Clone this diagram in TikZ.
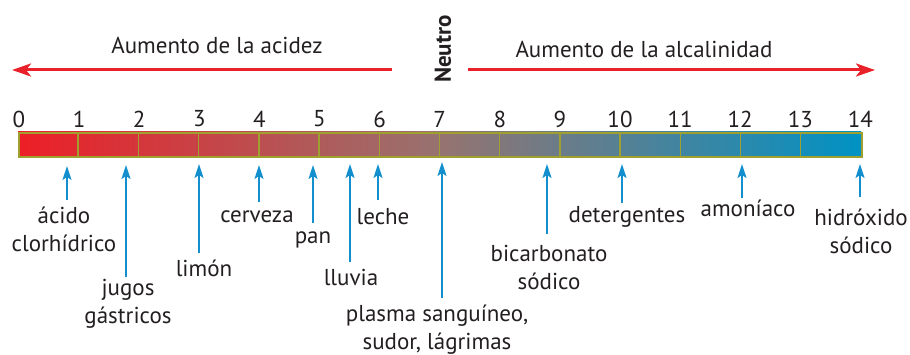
\documentclass[tikz,border=0pt]{standalone}
\usepackage{fontspec}
\setmainfont{PT Sans}
\usetikzlibrary{arrows.meta}
\definecolor{txt}{RGB}{35,31,32}
\definecolor{redarr}{RGB}{232,33,42}
\definecolor{bluearr}{RGB}{18,143,204}
\definecolor{olive}{RGB}{160,160,48}
\definecolor{phred}{RGB}{237,30,38}
\definecolor{phmid}{RGB}{150,115,112}
\definecolor{phblue}{RGB}{0,146,196}
\tikzset{
  lbl/.style={text=txt,font=\fontsize{23}{28}\selectfont,align=center,inner sep=0pt},
  num/.style={text=txt,font=\fontsize{23}{24}\selectfont,inner sep=0pt},
  redline/.style={draw=redarr,line width=3pt,-{Stealth[length=19pt,width=13pt,inset=5pt]}},
  blueline/.style={draw=bluearr,line width=1.8pt,-{Stealth[length=14pt,width=9pt,inset=3pt]}},
  divider/.style={draw=olive,line width=1.5pt},
}
\begin{document}
\begin{tikzpicture}[x=1pt,y=-1pt]
\useasboundingbox (0,0) rectangle (910,355);
% bar
\path[left color=phred,right color=phblue,middle color=phmid] (18,132) rectangle (861,156);
\foreach \i in {1,...,13} {
  \draw[divider] ({18+\i*60.21},132) -- ({18+\i*60.21},156);
}
\node[draw=olive,line width=2pt,minimum width=843pt,minimum height=24pt,inner sep=0pt,anchor=north west] (bar) at (18,132) {};
% numbers
\foreach \i in {0,...,14} {
  \node[num] (n\i) at ({19+\i*60.1},119) {\i};
}
% top texts
\node[lbl] (acid) at (217,45) {Aumento de la acidez};
\node[lbl] (alc) at (644,49) {Aumento de la alcalinidad};
\node[text=txt,font=\fontsize{23}{24}\selectfont\bfseries,rotate=90,inner sep=0pt] (neutro) at (443,49) {Neutro};
\coordinate (la0) at (392,70);
\coordinate (la1) at (12,70);
\coordinate (ra0) at (468,70);
\coordinate (ra1) at (875,70);
\draw[redline] (la0) -- (la1);
\draw[redline] (ra0) -- (ra1);
% labels
\node[lbl] (hcl) at (64,229) {ácido\\clorhídrico};
\node[lbl] (jug) at (128,304) {jugos\\gástricos};
\node[lbl] (lim) at (204,268) {limón};
\node[lbl] (cer) at (257,217) {cerveza};
\node[lbl] (pan) at (313,240) {pan};
\node[lbl] (llu) at (351,277) {lluvia};
\node[lbl] (lec) at (383,217) {leche};
\node[lbl] (pla) at (437,330) {plasma sanguíneo,\\sudor, lágrimas};
\node[lbl] (bic) at (549,267) {bicarbonato\\sódico};
\node[lbl] (det) at (627,217) {detergentes};
\node[lbl] (amo) at (748,208) {amoníaco};
\node[lbl] (hid) at (861,231) {hidróxido\\sódico};
% arrow coordinates
\coordinate (hcl0) at (67,200);  \coordinate (hcl1) at (67,166);
\coordinate (jug0) at (126,277); \coordinate (jug1) at (126,165);
\coordinate (lim0) at (199,253); \coordinate (lim1) at (199,164);
\coordinate (cer0) at (259,202); \coordinate (cer1) at (259,165);
\coordinate (pan0) at (313,223); \coordinate (pan1) at (313,165);
\coordinate (llu0) at (350,262); \coordinate (llu1) at (350,164);
\coordinate (lec0) at (378,200); \coordinate (lec1) at (378,164);
\coordinate (pla0) at (442,298); \coordinate (pla1) at (442,162);
\coordinate (bic0) at (547,234); \coordinate (bic1) at (547,164);
\coordinate (det0) at (622,203); \coordinate (det1) at (622,164);
\coordinate (amo0) at (742,198); \coordinate (amo1) at (742,164);
\coordinate (hid0) at (860,197); \coordinate (hid1) at (860,164);
\foreach \a in {hcl,jug,lim,cer,pan,llu,lec,pla,bic,det,amo,hid} {
  \draw[blueline] (\a0) -- (\a1);
}
\end{tikzpicture}
\end{document}
